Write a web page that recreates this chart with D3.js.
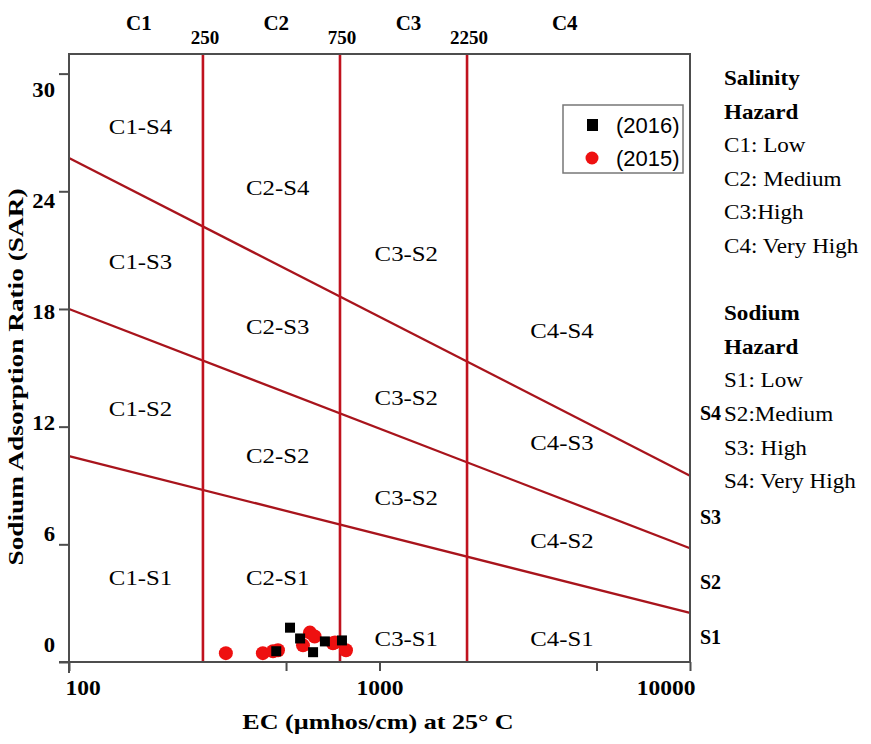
<!DOCTYPE html>
<html>
<head>
<meta charset="utf-8">
<script src="https://cdn.jsdelivr.net/npm/d3@7"></script>
<style>
  body { margin: 0; background: #fff; }
  text { font-family: "Liberation Serif", "Times New Roman", serif; }
</style>
</head>
<body>
<svg id="vis"></svg>
<script>
// 0) Constantes y datos
const WIDTH = 871;
const HEIGHT = 744;

// limites de salinidad (posicion dibujada) y sus etiquetas
const ecBreaks = [270, 746, 1914];
const ecBreakLabels = ["250", "750", "2250"];
const salinityClasses = ["C1", "C2", "C3", "C4"];
const salinityClassEC = [168, 465, 1240, 3950];

// lineas de sodio: SAR en EC=100 y en EC=10000
const sodiumStartSAR = [10.5, 18, 25.7];
const sodiumEndSAR = [2.5, 5.8, 9.5];
const sodiumClasses = ["S1", "S2", "S3", "S4"];
const sodiumClassSAR = [1.3, 4.1, 7.4, 12.7];

// nombres de zonas (tal cual aparecen)
const zoneNames = ["C1-S4", "C2-S4", "C1-S3", "C3-S2", "C4-S4", "C2-S3", "C1-S2", "C3-S2",
  "C4-S3", "C2-S2", "C3-S2", "C4-S2", "C1-S1", "C2-S1", "C3-S1", "C4-S1"];
const zoneEC = [170, 470, 170, 1220, 3870, 470, 170, 1220, 3870, 470, 1220, 3870, 170, 470, 1220, 3870];
const zoneSAR = [27.3, 24.2, 20.4, 20.8, 16.9, 17.1, 12.9, 13.5, 11.2, 10.5, 8.4, 6.2, 4.3, 4.3, 1.2, 1.2];

// muestras
const ec2015 = [320, 421, 454, 471, 567, 597, 618, 708, 719, 780];
const sar2015 = [0.45, 0.45, 0.55, 0.6, 0.85, 1.5, 1.3, 0.95, 1.0, 0.6];
const ec2016 = [465, 515, 555, 611, 667, 757];
const sar2016 = [0.55, 1.75, 1.2, 0.5, 1.05, 1.1];

const yTicks = [0, 6, 12, 18, 24, 30];
const xTicks = [100, 500, 1000, 5000, 10000];

const legendKeys = ["(2016)", "(2015)"];

const hazardText = [
  { t: "Salinity", b: true }, { t: "Hazard", b: true },
  { t: "C1: Low" }, { t: "C2: Medium" }, { t: "C3:High" }, { t: "C4: Very High" },
  { t: "" },
  { t: "Sodium", b: true }, { t: "Hazard", b: true },
  { t: "S1: Low" }, { t: "S2:Medium" }, { t: "S3: High" }, { t: "S4: Very High" }
];

const LINE_RED = "#a8141c";
const FRAME = "#4d4d4d";

// ensancha horizontalmente el texto (la figura original esta estirada)
const estirar = (sel, k) => sel.each(function () {
  const w = this.getComputedTextLength();
  if (w > 0) d3.select(this).attr("textLength", w * k).attr("lengthAdjust", "spacingAndGlyphs");
});

// 1) SVG y escalas
const svg = d3.select("#vis").attr("width", WIDTH).attr("height", HEIGHT);

const x = d3.scaleLog().domain([100, 10000]).range([69, 690]);
const y = d3.scaleLinear().domain([0, 31]).range([662, 54]);
// las etiquetas del eje Y en la figura no caen exactamente sobre sus marcas
const yLabel = d3.scaleLinear().domain([0, 30]).range([645, 90]);

// 2) lineas divisorias
svg.append("g").selectAll("line")
  .data(sodiumStartSAR)
  .join("line")
  .attr("x1", x(100)).attr("y1", d => y(d))
  .attr("x2", x(10000)).attr("y2", (d, i) => y(sodiumEndSAR[i]))
  .attr("stroke", LINE_RED).attr("stroke-width", 2.3);

svg.append("g").selectAll("line")
  .data(ecBreaks)
  .join("line")
  .attr("x1", d => x(d)).attr("x2", d => x(d))
  .attr("y1", y(31)).attr("y2", y(0))
  .attr("stroke", "#c0121e").attr("stroke-width", 2.6);

// 3) marco y ejes
svg.append("rect")
  .attr("x", x(100)).attr("y", y(31))
  .attr("width", x(10000) - x(100)).attr("height", y(0) - y(31))
  .attr("fill", "none").attr("stroke", FRAME).attr("stroke-width", 2);

const ejeY = svg.append("g")
  .attr("transform", `translate(${x(100)},0)`)
  .call(d3.axisLeft(y).tickValues(yTicks).tickSize(10).tickPadding(4));
ejeY.select(".domain").remove();
ejeY.selectAll("line").attr("stroke", FRAME).attr("stroke-width", 2);
ejeY.selectAll("text")
  .attr("y", d => yLabel(d) - y(d))
  .attr("font-family", "Liberation Serif").attr("font-weight", "bold")
  .attr("font-size", 21).attr("fill", "#000")
  .call(estirar, 1.08);

const ejeX = svg.append("g")
  .attr("transform", `translate(0,${y(0)})`)
  .call(d3.axisBottom(x).tickValues(xTicks).tickSize(9).tickPadding(9)
    .tickFormat(d => (d === 100 || d === 1000 || d === 10000) ? d : ""));
ejeX.select(".domain").remove();
ejeX.selectAll("line").attr("stroke", FRAME).attr("stroke-width", 2);
ejeX.selectAll("text")
  .attr("font-family", "Liberation Serif").attr("font-weight", "bold")
  .attr("font-size", 21).attr("fill", "#000")
  .attr("text-anchor", d => d === 100 ? "start" : d === 10000 ? "end" : "middle")
  .attr("dx", d => d === 100 ? -4 : d === 10000 ? 5 : 0)
  .call(estirar, 1.12);

// pequeñas prolongaciones de los ejes en la esquina
svg.append("line").attr("x1", x(100) - 10).attr("x2", x(100))
  .attr("y1", y(0)).attr("y2", y(0)).attr("stroke", FRAME).attr("stroke-width", 2);
svg.append("line").attr("x1", x(100)).attr("x2", x(100))
  .attr("y1", y(0)).attr("y2", y(0) + 11).attr("stroke", FRAME).attr("stroke-width", 2);

// titulos de ejes
svg.append("text")
  .attr("x", 378).attr("y", 729)
  .attr("text-anchor", "middle").attr("font-weight", "bold").attr("font-size", 21)
  .text("EC (µmhos/cm) at 25° C")
  .call(estirar, 1.24);

svg.append("text")
  .attr("transform", `translate(23,377) rotate(-90)`)
  .attr("text-anchor", "middle").attr("font-weight", "bold").attr("font-size", 21)
  .text("Sodium Adsorption Ratio (SAR)")
  .call(estirar, 1.3);

// 4) etiquetas superiores
svg.append("g").selectAll("text")
  .data(salinityClasses)
  .join("text")
  .attr("x", (d, i) => x(salinityClassEC[i]))
  .attr("y", 30)
  .attr("text-anchor", "middle").attr("font-weight", "bold").attr("font-size", 21)
  .text(d => d);

svg.append("g").selectAll("text")
  .data(ecBreakLabels)
  .join("text")
  .attr("x", (d, i) => x(ecBreaks[i]) + 2)
  .attr("y", 44)
  .attr("text-anchor", "middle").attr("font-weight", "bold").attr("font-size", 19)
  .text(d => d);

// clases de sodio a la derecha
svg.append("g").selectAll("text")
  .data(sodiumClasses)
  .join("text")
  .attr("x", 700)
  .attr("y", (d, i) => y(sodiumClassSAR[i]))
  .attr("dy", "0.35em")
  .attr("font-weight", "bold").attr("font-size", 20)
  .text(d => d);

// 5) nombres de zonas
svg.append("g").selectAll("text")
  .data(zoneNames)
  .join("text")
  .attr("x", (d, i) => x(zoneEC[i]))
  .attr("y", (d, i) => y(zoneSAR[i]))
  .attr("dy", "0.35em")
  .attr("text-anchor", "middle").attr("font-size", 21)
  .text(d => d)
  .call(estirar, 1.18);

// 6) muestras
svg.append("g").selectAll("circle")
  .data(ec2015)
  .join("circle")
  .attr("cx", d => x(d))
  .attr("cy", (d, i) => y(sar2015[i]))
  .attr("r", 7)
  .attr("fill", "#ee1010");

svg.append("g").selectAll("rect")
  .data(ec2016)
  .join("rect")
  .attr("x", d => x(d) - 5)
  .attr("y", (d, i) => y(sar2016[i]) - 5)
  .attr("width", 10).attr("height", 10)
  .attr("fill", "#000");

// 7) leyenda
const leyenda = svg.append("g").attr("transform", "translate(563,105)");
leyenda.append("rect")
  .attr("width", 120).attr("height", 68)
  .attr("fill", "#fff").attr("stroke", "#777").attr("stroke-width", 1.5);
const items = leyenda.selectAll(".item")
  .data(legendKeys)
  .join("g")
  .attr("class", "item")
  .attr("transform", (d, i) => `translate(0,${20 + i * 33})`);
items.filter((d, i) => i === 0).append("rect")
  .attr("x", 24).attr("y", -6).attr("width", 11).attr("height", 12).attr("fill", "#000");
items.filter((d, i) => i === 1).append("circle")
  .attr("cx", 29).attr("cy", 0).attr("r", 6.5).attr("fill", "#ee1010");
items.append("text")
  .attr("x", 53).attr("dy", "0.35em")
  .style("font-family", "'Liberation Sans', Arial, sans-serif")
  .attr("font-size", 22)
  .text(d => d);

// 8) texto explicativo
svg.append("g").selectAll("text")
  .data(hazardText)
  .join("text")
  .attr("x", 724)
  .attr("y", (d, i) => 85 + i * 33.6)
  .attr("font-weight", d => d.b ? "bold" : "normal")
  .attr("font-size", 21)
  .text(d => d.t)
  .call(estirar, 1.1);
</script>
</body>
</html>
